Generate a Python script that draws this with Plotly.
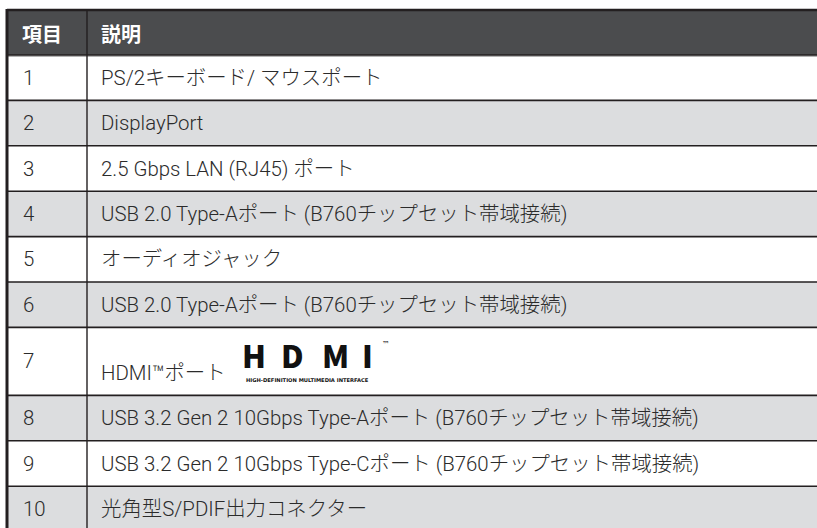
import plotly.graph_objects as go

# ---------------- data ----------------
header = ["項目", "説明"]
items = ["1", "2", "3", "4", "5", "6", "7", "8", "9", "10"]
descriptions = [
    "PS/2キーボード/ マウスポート",
    "DisplayPort",
    "2.5 Gbps LAN (RJ45) ポート",
    "USB 2.0 Type-Aポート (B760チップセット帯域接続)",
    "オーディオジャック",
    "USB 2.0 Type-Aポート (B760チップセット帯域接続)",
    "HDMI™ポート",
    "USB 3.2 Gen 2 10Gbps Type-Aポート (B760チップセット帯域接続)",
    "USB 3.2 Gen 2 10Gbps Type-Cポート (B760チップセット帯域接続)",
    "光角型S/PDIF出力コネクター",
]
logo_item = "7"
logo_letters = ["H", "D", "M", "I"]
logo_caption = "HIGH-DEFINITION MULTIMEDIA INTERFACE"
logo_mark = "™"

# ---------------- layout constants ----------------
W, H = 817, 528
X_LEFT, X_SPLIT, X_RIGHT = 7, 87, 817
Y_TOP = 10
HEAD_H = 45
ROW_H = 45.4
LOGO_ROW_H = 68
X_ITEM, X_DESC = 21, 99

HEAD_BG = "#4b4c4e"
GRAY_BG = "#dcdddf"
LINE = "#231f20"
TEXT = "#2b2b2b"
FONT = "Roboto, 'Noto Sans CJK JP', sans-serif"
FS = 20.4
FW = 300

fig = go.Figure()
shapes = []
ann = []

# header
y0 = Y_TOP
y1 = Y_TOP + HEAD_H
shapes.append(dict(type="rect", xref="x", yref="y", x0=X_LEFT, x1=X_RIGHT, y0=y0, y1=y1,
                   fillcolor=HEAD_BG, line=dict(width=0), layer="below"))
for hx, htxt in zip([X_ITEM - 1, X_DESC], header):
    ann.append(dict(x=hx, y=(y0 + y1) / 2 + 1, text="<b>%s</b>" % htxt, showarrow=False,
                    xanchor="left", yanchor="middle",
                    font=dict(family="'Noto Sans CJK JP'", size=20, color="white")))

# rows
y = y1
row_tops = []
for i, (it, desc) in enumerate(zip(items, descriptions)):
    h = LOGO_ROW_H if it == logo_item else ROW_H
    top, bot = y, y + h
    row_tops.append(top)
    fill = "white" if i % 2 == 0 else GRAY_BG
    shapes.append(dict(type="rect", xref="x", yref="y", x0=X_LEFT, x1=X_RIGHT, y0=top, y1=bot,
                       fillcolor=fill, line=dict(width=0), layer="below"))
    mid = (top + bot) / 2
    ann.append(dict(x=X_ITEM, y=mid, text=it, showarrow=False, xanchor="left", yanchor="middle",
                    font=dict(family=FONT, size=FS, weight=FW, color=TEXT)))
    if it == logo_item:
        ann.append(dict(x=X_DESC, y=mid + 12, text=desc, showarrow=False, xanchor="left", yanchor="middle",
                        font=dict(family=FONT, size=FS, weight=FW, color=TEXT)))
        # HDMI logo drawn as heavy text
        lx = [254, 292, 335, 367]
        for letter, cx in zip(logo_letters, lx):
            ann.append(dict(x=cx, y=mid - 7, text=letter, showarrow=False,
                            xanchor="center", yanchor="middle",
                            font=dict(family="'Noto Sans CJK JP'", size=31, weight=900,
                                      color="#111111")))
        ann.append(dict(x=307, y=mid + 18.5, text="<b>%s</b>" % logo_caption, showarrow=False,
                        xanchor="center", yanchor="middle",
                        font=dict(family="DejaVu Sans", size=5.2, color="#111111")))
        ann.append(dict(x=380, y=mid - 17, text=logo_mark, showarrow=False, xanchor="left",
                        yanchor="middle", font=dict(family="DejaVu Sans", size=8, color="#111111")))
    else:
        ann.append(dict(x=X_DESC, y=mid, text=desc, showarrow=False, xanchor="left", yanchor="middle",
                        font=dict(family=FONT, size=FS, weight=FW, color=TEXT)))
    y = bot
y_bottom = y

# lines
shapes.append(dict(type="line", xref="x", yref="y", x0=X_LEFT, x1=X_RIGHT, y0=Y_TOP, y1=Y_TOP,
                   line=dict(color=LINE, width=2.5)))
shapes.append(dict(type="line", xref="x", yref="y", x0=X_LEFT, x1=X_RIGHT, y0=y1 + 1.2, y1=y1 + 1.2,
                   line=dict(color="#9a9a9a", width=1.2)))
for t in row_tops:
    shapes.append(dict(type="line", xref="x", yref="y", x0=X_LEFT, x1=X_RIGHT, y0=t, y1=t,
                       line=dict(color=LINE, width=1.6)))
shapes.append(dict(type="line", xref="x", yref="y", x0=X_SPLIT, x1=X_SPLIT, y0=Y_TOP, y1=y_bottom,
                   line=dict(color=LINE, width=1.4)))
shapes.append(dict(type="line", xref="x", yref="y", x0=X_LEFT, x1=X_LEFT, y0=Y_TOP - 1, y1=y_bottom,
                   line=dict(color=LINE, width=3)))

fig.update_layout(
    width=W, height=H, autosize=False,
    margin=dict(l=0, r=0, t=0, b=0),
    paper_bgcolor="white", plot_bgcolor="white",
    xaxis=dict(range=[0, W], visible=False, fixedrange=True),
    yaxis=dict(range=[H, 0], visible=False, fixedrange=True),
    shapes=shapes, annotations=ann, showlegend=False,
)

fig.write_html("out.html", include_plotlyjs=True, config={"displayModeBar": False},
               post_script="document.body.style.margin='0';")
